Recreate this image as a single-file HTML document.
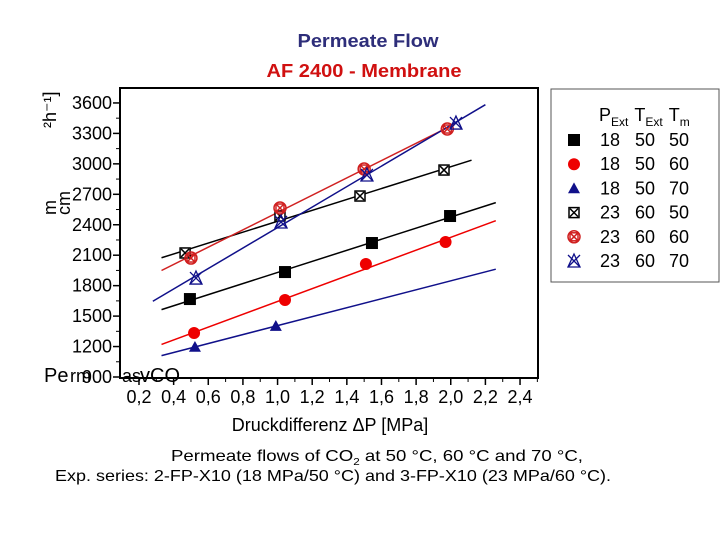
<!DOCTYPE html>
<html><head><meta charset="utf-8"><style>
body{margin:0;background:#fff;}
svg text{font-family:"Liberation Sans",Arial,sans-serif;}
</style></head><body>
<svg id="c" width="720" height="540" viewBox="0 0 720 540" xmlns="http://www.w3.org/2000/svg">
<text x="368" y="47" text-anchor="middle" font-size="18" font-weight="bold" fill="#2e2e7a" textLength="141" lengthAdjust="spacingAndGlyphs">Permeate Flow</text>
<text x="364" y="77" text-anchor="middle" font-size="18" font-weight="bold" fill="#d01010" textLength="195" lengthAdjust="spacingAndGlyphs">AF 2400 - Membrane</text>
<rect x="120" y="88" width="418" height="290" fill="none" stroke="#000" stroke-width="2"/>
<g id="axes"></g>
<g id="lines"></g>
<g id="marks"></g>
<text x="330" y="431" text-anchor="middle" font-size="18">Druckdifferenz ΔP [MPa]</text>
<g font-size="18">
<text x="0" y="0" transform="translate(56,128) rotate(-90)">²h⁻¹]</text>
<text x="0" y="0" transform="translate(56,215) rotate(-90)">m</text>
<text x="0" y="0" transform="translate(70,215) rotate(-90)">cm</text>
<text x="44" y="382" font-size="20">Pe</text>
<text x="70" y="382" font-size="18">rm</text>
<text x="122" y="382" font-size="18">as</text>
<text x="140" y="382" font-size="20">vCO</text>
</g>
<rect x="551" y="89" width="168" height="193" fill="none" stroke="#555" stroke-width="1"/>
<g id="legend" font-size="18"></g>
<text x="171" y="461" font-size="16" textLength="412" lengthAdjust="spacingAndGlyphs">Permeate flows of CO<tspan font-size="10" dy="4">2</tspan><tspan dy="-4"> at 50 °C, 60 °C and 70 °C,</tspan></text>
<text x="55" y="481" font-size="16" textLength="556" lengthAdjust="spacingAndGlyphs">Exp. series: 2-FP-X10 (18 MPa/50 °C) and 3-FP-X10 (23 MPa/60 °C).</text>
</svg>
<script>
const xTicks=["0,2","0,4","0,6","0,8","1,0","1,2","1,4","1,6","1,8","2,0","2,2","2,4"];
const xTickVals=[0.2,0.4,0.6,0.8,1.0,1.2,1.4,1.6,1.8,2.0,2.2,2.4];
const yTickVals=[900,1200,1500,1800,2100,2400,2700,3000,3300,3600];
const s1x=[0.494,1.043,1.545,1.996], s1y=[1668,1934,2220,2486];
const s2x=[0.518,1.043,1.51,1.97], s2y=[1333,1659,2013,2230];
const s3x=[0.523,0.99], s3y=[1196,1402];
const s4x=[0.466,1.014,1.476,1.961], s4y=[2122,2486,2683,2939];
const s5x=[0.50,1.014,1.50,1.98], s5y=[2072,2565,2949,3343];
const s6x=[0.529,1.02,1.516,2.03], s6y=[1875,2427,2890,3402];
const fitRanges=[[0.33,2.26],[0.33,2.26],[0.33,2.26],[0.33,2.12],[0.33,2.02],[0.28,2.2]];
const legendP=["18","18","18","23","23","23"];
const legendTE=["50","50","50","60","60","60"];
const legendTm=["50","60","70","50","60","70"];
const colors=["#000","#e00","#10108a","#000","#d02020","#10108a"];
const shapes=["sq","ci","tr","sqx","cix","trx"];
const NS="http://www.w3.org/2000/svg";
const X=v=>139+(v-0.2)*173.2;
const Y=v=>377-(v-900)*0.1015;
function mk(tag,attrs,parent){const e=document.createElementNS(NS,tag);for(const k in attrs)e.setAttribute(k,attrs[k]);parent.appendChild(e);return e;}
const axes=document.getElementById('axes');
xTickVals.forEach((v,i)=>{
 const t=mk('line',{x1:X(v),x2:X(v),y1:378,y2:385,stroke:'#000','stroke-width':1.5},axes);
 
 
 const m=mk('line',{x1:X(v+0.1),x2:X(v+0.1),y1:378,y2:382,stroke:'#000'},axes);
 
 
 const l=mk('text',{x:X(v),y:403,'text-anchor':'middle','font-size':18},axes);
 l.textContent=xTicks[i];
 
 
});
yTickVals.forEach(v=>{
 const t=mk('line',{x1:113,x2:120,y1:Y(v),y2:Y(v),stroke:'#000','stroke-width':1.5},axes);
 
 
 if(v<3600){const m=mk('line',{x1:116,x2:120,y1:Y(v+150),y2:Y(v+150),stroke:'#000'},axes);
 
 }
 const l=mk('text',{x:112,y:Y(v)+6,'text-anchor':'end','font-size':18},axes);
 l.textContent=String(v);
 
 
});
function marker(shape,cx,cy,col,par,sz){
 const g=mk('g',{},par);
 const r=sz||6;
 if(shape==='sq')mk('rect',{x:cx-r,y:cy-r,width:2*r,height:2*r,fill:col},g);
 if(shape==='ci')mk('circle',{cx:cx,cy:cy,r:r,fill:col},g);
 if(shape==='tr')mk('polygon',{points:`${cx},${cy-r} ${cx+r},${cy+r*0.8} ${cx-r},${cy+r*0.8}`,fill:col},g);
 if(shape==='sqx'){mk('rect',{x:cx-r+1,y:cy-r+1,width:2*r-2,height:2*r-2,fill:'#fff',stroke:col,'stroke-width':1.5},g);
  mk('path',{d:`M${cx-r+2},${cy-r+2}L${cx+r-2},${cy+r-2}M${cx+r-2},${cy-r+2}L${cx-r+2},${cy+r-2}`,stroke:col,'stroke-width':1.5},g);}
 if(shape==='cix'){mk('circle',{cx:cx,cy:cy,r:r,fill:'none',stroke:col,'stroke-width':1.5},g);
  mk('rect',{x:cx-r+2,y:cy-r+2,width:2*r-4,height:2*r-4,fill:'none',stroke:col,'stroke-width':1.5},g);
  mk('path',{d:`M${cx-r+2},${cy-r+2}L${cx+r-2},${cy+r-2}M${cx+r-2},${cy-r+2}L${cx-r+2},${cy+r-2}`,stroke:col,'stroke-width':1.5},g);}
 if(shape==='trx'){mk('polygon',{points:`${cx},${cy-r-1} ${cx+r},${cy+r} ${cx-r},${cy+r}`,fill:'none',stroke:col,'stroke-width':1.3},g);
  mk('path',{d:`M${cx-r},${cy-r}L${cx+r},${cy+r}M${cx+r},${cy-r}L${cx-r},${cy+r}`,stroke:col,'stroke-width':1.3},g);}
 return g;
}
const series=[[s1x,s1y],[s2x,s2y],[s3x,s3y],[s4x,s4y],[s5x,s5y],[s6x,s6y]];
const linesG=document.getElementById('lines'),marksG=document.getElementById('marks');
series.forEach(([xs,ys],i)=>{
 const n=xs.length,mx=xs.reduce((a,b)=>a+b)/n,my=ys.reduce((a,b)=>a+b)/n;
 let sxy=0,sxx=0;for(let k=0;k<n;k++){sxy+=(xs[k]-mx)*(ys[k]-my);sxx+=(xs[k]-mx)**2;}
 const b=sxy/sxx,a=my-b*mx,[x0,x1]=fitRanges[i];
 const ln=mk('line',{x1:X(x0),y1:Y(a+b*x0),x2:X(x1),y2:Y(a+b*x1),stroke:colors[i],'stroke-width':1.5},linesG);
 
 
 xs.forEach((xv,k)=>{
  const m=marker(shapes[i],X(xv),Y(ys[k]),colors[i],marksG);
  
  
 });
});
const lg=document.getElementById('legend');
const hd=mk('text',{x:599,y:121},lg);hd.innerHTML='P<tspan font-size="12" dy="5">Ext</tspan><tspan dy="-5" dx="6">T</tspan><tspan font-size="12" dy="5">Ext</tspan><tspan dy="-5" dx="6">T</tspan><tspan font-size="12" dy="5">m</tspan>';


legendP.forEach((p,i)=>{
 const y=146+i*24.2;
 const m=marker(shapes[i],574,y-6,colors[i],lg,6);
 
 
 const t=mk('text',{x:600,y:y},lg);t.textContent=p;
 
 
 const t2=mk('text',{x:635,y:y},lg);t2.textContent=legendTE[i];
 
 
 const t3=mk('text',{x:669,y:y},lg);t3.textContent=legendTm[i];
 
 
});
</script>
</body></html>
